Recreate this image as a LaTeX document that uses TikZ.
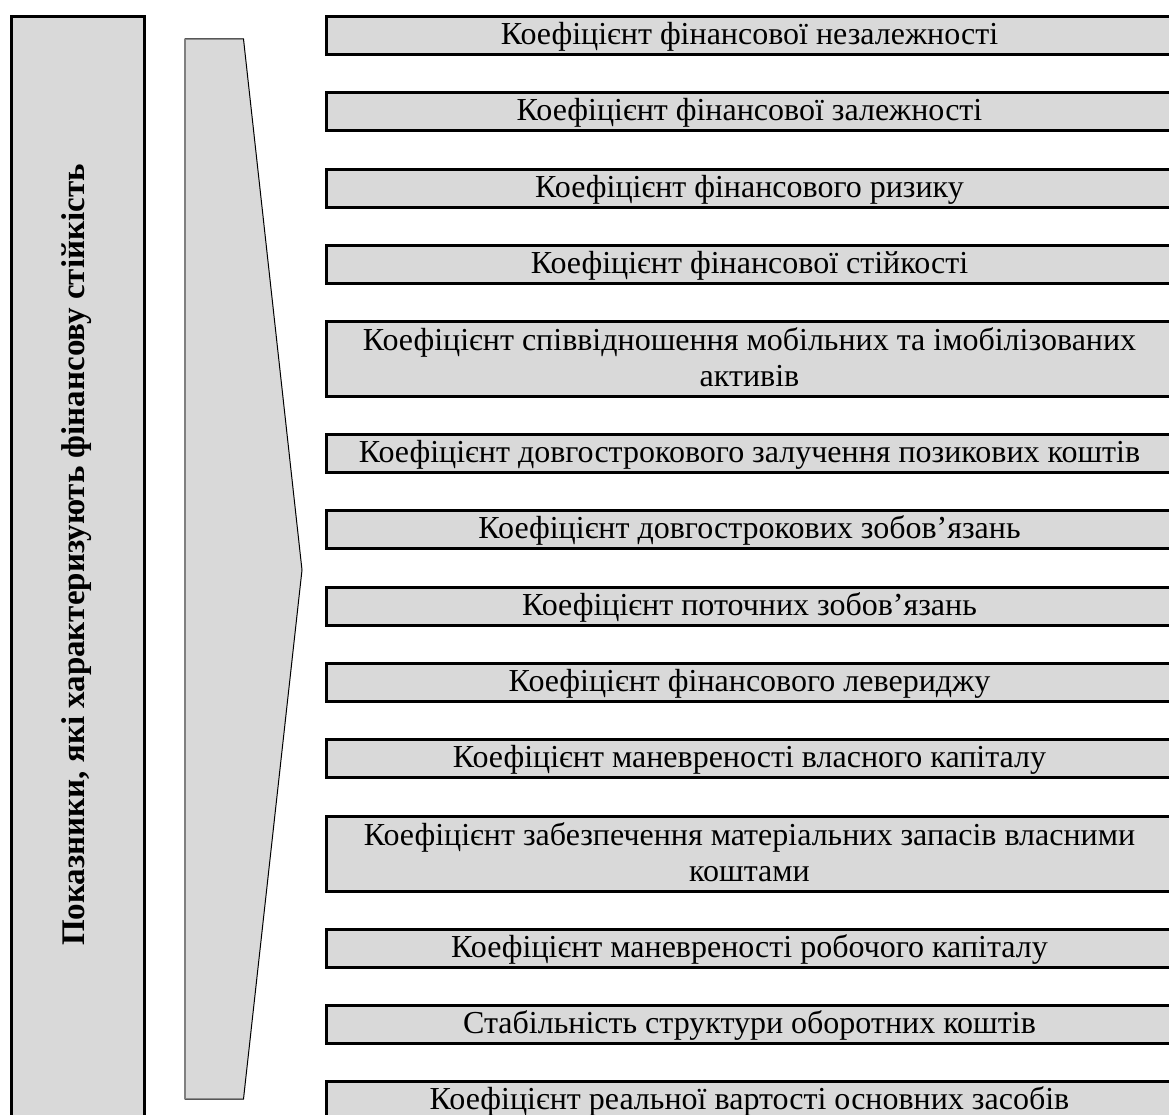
\documentclass[tikz,border=0pt]{standalone}
\usepackage{fontspec}
\setmainfont{Liberation Serif}
\definecolor{boxgray}{HTML}{D9D9D9}
\begin{document}
\begin{tikzpicture}[x=1pt,y=-1pt,
  itembox/.style={draw, line width=3pt, fill=boxgray, minimum width=846pt,
    inner sep=0pt, align=center, anchor=north west,
    font=\fontsize{32}{36}\selectfont},
  one/.style={itembox, minimum height=38pt, text height=25pt, text depth=7pt},
  two/.style={itembox, minimum height=75pt, text height=61pt, text depth=7pt}]
\useasboundingbox (0,0) rectangle (1169,1115);
% left title box
\node[draw, line width=3pt, fill=boxgray, minimum width=133pt, minimum height=1105pt,
  anchor=north west, inner sep=0pt] (title) at (10,15) {};
\node[rotate=90, font=\bfseries\fontsize{33}{40}\selectfont] (titletext) at (77,555)
  {Показники, які характеризують фінансову стійкість};
% chevron
\filldraw[fill=boxgray, draw=black, line width=1pt]
  (185,39) -- (243.5,39) -- (302,570) -- (243.5,1099) -- (185,1099) -- cycle;
\draw[gray, line width=1.5pt] (185,39) -- (185,1099);
% items
\node[one] (b1) at (325,15) {Коефіцієнт фінансової незалежності};
\node[one] (b2) at (325,91) {Коефіцієнт фінансової залежності};
\node[one] (b3) at (325,168) {Коефіцієнт фінансового ризику};
\node[one] (b4) at (325,244) {Коефіцієнт фінансової стійкості};
\node[two] (b5) at (325,320) {Коефіцієнт співвідношення мобільних та імобілізованих\\активів};
\node[one] (b6) at (325,433) {Коефіцієнт довгострокового залучення позикових коштів};
\node[one] (b7) at (325,509) {Коефіцієнт довгострокових зобов’язань};
\node[one] (b8) at (325,586) {Коефіцієнт поточних зобов’язань};
\node[one] (b9) at (325,662) {Коефіцієнт фінансового левериджу};
\node[one] (b10) at (325,738) {Коефіцієнт маневреності власного капіталу};
\node[two] (b11) at (325,815) {Коефіцієнт забезпечення матеріальних запасів власними\\коштами};
\node[one] (b12) at (325,928) {Коефіцієнт маневреності робочого капіталу};
\node[one] (b13) at (325,1004) {Стабільність структури оборотних коштів};
\node[one] (b14) at (325,1080) {Коефіцієнт реальної вартості основних засобів};
\end{tikzpicture}
\end{document}
